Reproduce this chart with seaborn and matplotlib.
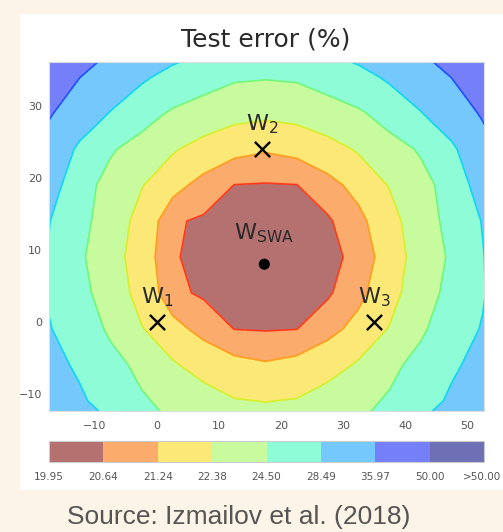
import numpy as np
import pandas as pd
import matplotlib
matplotlib.use("Agg")
import matplotlib.pyplot as plt
from matplotlib.patches import Rectangle
from matplotlib.transforms import blended_transform_factory, offset_copy
import seaborn as sns

# Test error surface, values on a coarse grid
grid_x = [-22.5, -17.5, -12.5, -7.5, -2.5, 2.5, 7.5, 12.5, 17.5,
          22.5, 27.5, 32.5, 37.5, 42.5, 47.5, 52.5, 57.5]
grid_y = [-16, -11, -6, -1, 4, 9, 14, 19, 24, 29, 34, 39]

test_error = [
    [37.30, 34.14, 31.70, 29.81, 26.74, 24.90, 24.20, 23.52, 23.24, 23.52, 24.20, 24.90, 26.74, 29.81, 31.70, 34.14, 37.30],
    [35.50, 32.00, 29.20, 26.60, 24.88, 23.65, 22.95, 22.45, 22.35, 22.45, 22.95, 23.65, 24.88, 26.60, 29.20, 32.00, 35.50],
    [33.00, 30.00, 27.80, 25.57, 23.70, 22.53, 21.86, 21.45, 21.31, 21.45, 21.86, 22.53, 23.70, 25.57, 27.80, 30.00, 33.00],
    [32.00, 28.75, 26.60, 23.93, 22.46, 21.53, 20.96, 20.63, 20.60, 20.63, 20.96, 21.53, 22.46, 23.93, 26.60, 28.75, 32.00],
    [32.00, 28.15, 25.31, 23.23, 21.88, 20.75, 20.57, 20.40, 20.32, 20.40, 20.57, 21.01, 21.88, 23.23, 25.31, 28.15, 32.00],
    [32.50, 28.30, 24.86, 22.99, 21.68, 20.68, 20.52, 20.27, 20.05, 20.27, 20.52, 20.76, 21.68, 22.99, 24.86, 28.30, 32.50],
    [33.50, 28.70, 25.31, 23.23, 21.88, 20.70, 20.57, 20.40, 20.32, 20.40, 20.57, 21.01, 21.88, 23.23, 25.31, 28.70, 33.50],
    [35.78, 30.69, 25.60, 23.60, 22.46, 21.53, 20.96, 20.63, 20.60, 20.63, 20.96, 21.53, 22.46, 23.60, 25.60, 30.69, 35.78],
    [39.46, 33.30, 27.50, 24.80, 23.40, 22.53, 21.86, 21.45, 21.31, 21.45, 21.86, 22.53, 23.40, 24.80, 27.50, 33.30, 39.46],
    [44.10, 36.74, 32.14, 28.25, 25.76, 24.10, 23.32, 22.82, 22.65, 22.82, 23.32, 24.10, 25.76, 28.25, 32.14, 36.74, 44.10],
    [49.50, 42.58, 36.09, 32.41, 29.17, 27.10, 25.69, 24.80, 24.65, 24.80, 25.69, 27.10, 29.17, 32.41, 36.09, 42.58, 49.50],
    [57.80, 49.48, 43.57, 37.34, 34.53, 31.27, 29.81, 29.09, 28.60, 29.09, 29.81, 31.27, 34.53, 37.34, 43.57, 49.48, 57.80],
]

levels = [19.95, 20.64, 21.24, 22.38, 24.50, 28.49, 35.97, 50.00, 100.0]
level_labels = ["19.95", "20.64", "21.24", "22.38", "24.50", "28.49",
                "35.97", "50.00", ">50.00"]

# the three solutions and their average
w_names = [r"$\mathrm{W}_1$", r"$\mathrm{W}_2$", r"$\mathrm{W}_3$"]
w_x = [0.0, 17.0, 35.0]
w_y = [0.0, 24.0, 0.0]
swa_name = r"$\mathrm{W}_{\mathrm{SWA}}$"
swa_x = [17.3]
swa_y = [8.0]

# jet-like bands, already blended with white as in the picture
fill_colors = ["#b57070", "#fbab6c", "#fce876", "#c8fb9e",
               "#8ffcd8", "#74c8fc", "#747ff8", "#6e6fb4"]
line_colors = ["#ff3a1a", "#ff9c1a", "#d8f028", "#70f878",
               "#10d8f0", "#2050ff", "#2020a0"]

sns.set_style("white")
plt.rcParams["font.family"] = ["DejaVu Sans"]
plt.rcParams["mathtext.fontset"] = "dejavusans"

W, H = 503, 532
fig = plt.figure(figsize=(W / 100, H / 100), dpi=100, facecolor="#fdf4e8")
fig.patches.append(Rectangle((20 / W, 1 - 490 / H), 1 - 20 / W, 476 / H,
                             transform=fig.transFigure, facecolor="white",
                             edgecolor="none", zorder=-1))

ax = fig.add_axes([49 / W, 1 - 411 / H, 435 / W, 349 / H])

X, Y = np.meshgrid(grid_x, grid_y)
Z = np.array(test_error)

cf = ax.contourf(X, Y, Z, levels=levels, colors=fill_colors, zorder=0)
ax.contour(X, Y, Z, levels=levels[1:-1], colors=line_colors,
           linewidths=1.2, zorder=1)

pts = pd.DataFrame({"x": w_x, "y": w_y})
sns.scatterplot(data=pts, x="x", y="y", marker="x", s=120, color="black",
                linewidth=1.7, ax=ax, zorder=5)
sns.scatterplot(x=swa_x, y=swa_y, s=64, color="black", edgecolor="none",
                ax=ax, zorder=5)

for name, x, y in zip(w_names, w_x, w_y):
    ax.text(x, y + 2.6, name, ha="center", va="baseline", fontsize=16, color="#2a2a2a")
ax.text(swa_x[0], swa_y[0] + 3.4, swa_name, ha="center", va="baseline",
        fontsize=16, color="#2a2a2a")

ax.set_xlim(-17.4, 52.7)
ax.set_ylim(-12.4, 36.1)
ax.set_xticks([-10, 0, 10, 20, 30, 40, 50])
ax.set_yticks([-10, 0, 10, 20, 30])
ax.set_xlabel("")
ax.set_ylabel("")
ax.tick_params(length=0, labelsize=8, labelcolor="#555555")
ax.tick_params(axis="x", pad=7)
ax.tick_params(axis="y", pad=5)
for s in ax.spines.values():
    s.set_color("#dddddd")
    s.set_linewidth(0.8)

cax = fig.add_axes([49 / W, 1 - 462 / H, 435 / W, 21 / H])
cb = fig.colorbar(cf, cax=cax, orientation="horizontal", ticks=levels,
                  spacing="uniform")
cb.ax.set_xticklabels([])
cb.ax.tick_params(length=0)
cb.outline.set_edgecolor("#cccccc")
cb.outline.set_linewidth(0.8)
tr = blended_transform_factory(cax.transData, cax.transAxes)
tr_last = offset_copy(tr, fig=fig, x=-2, units="dots")
for i, (lev, lab) in enumerate(zip(levels, level_labels)):
    last = i == len(levels) - 1
    cax.text(lev, -0.72, lab, transform=tr_last if last else tr, ha="center",
             va="center", fontsize=7.5, color="#555555", clip_on=False)

fig.text(266 / W, 1 - 40 / H, "Test error (%)", ha="center", va="center",
         fontsize=18, color="#2a2a2a")
fig.text(239 / W, 1 - 517 / H, "Source: Izmailov et al. (2018)", ha="center",
         va="center", fontsize=19, color="#555555", family="Liberation Sans")

fig.savefig("out.png", dpi=100, facecolor=fig.get_facecolor())
